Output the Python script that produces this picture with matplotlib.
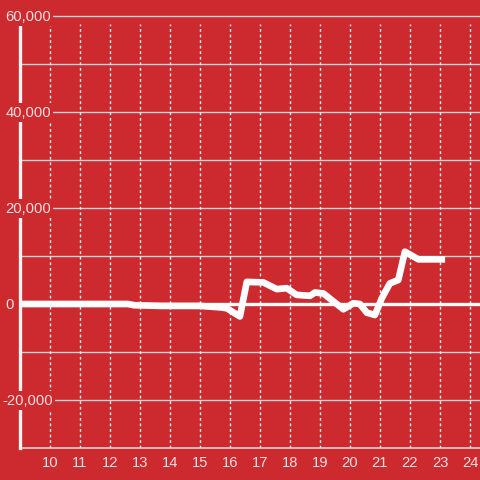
import matplotlib
matplotlib.use("Agg")
import matplotlib.pyplot as plt

# values
hours = [9.0, 12.6, 12.8, 13.7, 15.0, 15.67, 15.9, 16.33, 16.56, 17.11, 17.56, 17.89, 18.22,
         18.67, 18.83, 19.11, 19.78, 20.11, 20.33, 20.56, 20.83, 21.06, 21.33, 21.61, 21.83,
         22.28, 23.17]
values = [0, 0, -250, -400, -400, -700, -900, -2600, 4600, 4500, 3100, 3300, 1900,
          1700, 2400, 2200, -1100, 150, 0, -1800, -2300, 1200, 4300, 5000, 10900,
          9300, 9300]
x_ticks = list(range(10, 25))
y_ticks = [-20000, 0, 20000, 40000, 60000]
y_grid = list(range(-20000, 60001, 10000))

BG = "#cc2a2e"
TXT = "#f6dede"
GRID = "#d4d4d4"

plt.rcParams["font.family"] = ["Liberation Sans", "DejaVu Sans"]
fig = plt.figure(figsize=(4.8, 4.8), dpi=100, facecolor=BG)
ax = fig.add_axes([20 / 480, 32 / 480, 460 / 480, 424 / 480], facecolor=BG)
ax.set_xlim(9.0, 9.0 + 460 / 30)
ax.set_ylim(-30000, 58333)

for y in y_grid:
    ax.axhline(y, color=GRID, lw=1.0, zorder=1, clip_on=False)
for x in x_ticks:
    ax.axvline(x, color="#eeeeee", lw=1.0, ls=(0, (2, 2)), zorder=1)
ax.axhline(0, color="white", lw=2.4, zorder=2)

ax.plot(hours, values, color="white", lw=4.8, zorder=3, solid_capstyle="butt")

for s in ["top", "right"]:
    ax.spines[s].set_visible(False)
ax.spines["left"].set_color("#f4f4f4")
ax.spines["left"].set_linewidth(2.4)
ax.spines["left"].set_zorder(4)
ax.spines["bottom"].set_color(GRID)
ax.spines["bottom"].set_linewidth(1.2)

ax.set_xticks(x_ticks)
ax.set_xticklabels([str(t) for t in x_ticks])
ax.tick_params(axis="x", length=0, pad=6, labelsize=10.6, labelcolor=TXT)
ax.set_yticks([])

for y in y_ticks:
    dx = -13.0 if y < 0 else -10.5
    ax.annotate(f"{y:,}", xy=(0, y), xycoords=("axes fraction", "data"),
                xytext=(dx, -0.5), textcoords="offset points", ha="left", va="center",
                fontsize=10.6, color=TXT, zorder=6, annotation_clip=False,
                bbox=dict(boxstyle="square,pad=0.15", fc=BG, ec="none"))

fig.savefig("out.png", dpi=100, facecolor=BG)
